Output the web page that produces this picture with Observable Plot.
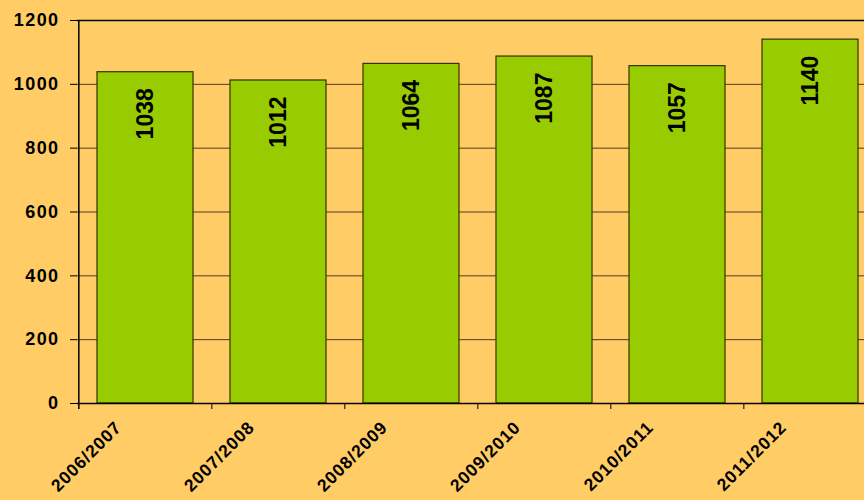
<!DOCTYPE html>
<html>
<head>
<meta charset="utf-8">
<script src="https://cdn.jsdelivr.net/npm/d3@7"></script>
<script src="https://cdn.jsdelivr.net/npm/@observablehq/plot@0.6"></script>
<style>
  html, body { margin: 0; padding: 0; background: #FFCC66; overflow: hidden; }
</style>
</head>
<body>
<div id="chart"></div>
<script>
const categories = ["2006/2007", "2007/2008", "2008/2009", "2009/2010", "2010/2011", "2011/2012"];
const values = [1038, 1012, 1064, 1087, 1057, 1140];
const yTicks = [0, 200, 400, 600, 800, 1000, 1200];

const data = categories.map((c, i) => ({season: c, value: values[i]}));

const W = 864, H = 500, mL = 77, mT = 20, mB = 97;
const xRange = [mL, 877];
const step = (xRange[1] - xRange[0]) / categories.length;
const plotH = H - mT - mB;

const chart = Plot.plot({
  width: W,
  height: H,
  marginLeft: mL,
  marginRight: 0,
  marginTop: mT,
  marginBottom: mB,
  style: {background: "#FFCC66", fontFamily: "'Liberation Sans', Arial, sans-serif", overflow: "hidden", color: "#000"},
  x: {domain: categories, range: xRange, paddingInner: 0.28, paddingOuter: 0.14, axis: null},
  y: {domain: [0, 1200], axis: null},
  marks: [
    Plot.ruleY(yTicks.slice(1, -1), {stroke: "#000", strokeOpacity: 0.7, strokeWidth: 1}),
    Plot.ruleY([1200], {stroke: "#000", strokeWidth: 1.5}),
    Plot.barY(data, {x: "season", y: "value", fill: "#99CC00", stroke: "#333300", strokeWidth: 1.2}),
    Plot.ruleY([0], {stroke: "#000", strokeWidth: 1.5}),
    Plot.ruleX(categories.slice(0, 1), {dx: -step / 2, stroke: "#000", strokeWidth: 1.5, insetBottom: -6}),
    Plot.ruleX(categories.slice(1), {dx: -step / 2, stroke: "#000", strokeWidth: 1, insetTop: plotH, insetBottom: -6}),
    Plot.axisY({ticks: yTicks, tickSize: 7, tickPadding: 11, fontSize: 18, fontWeight: "bold", label: null, tickFormat: d => String(d)}),
    Plot.text(data, {x: "season", y: "value", text: d => String(d.value), rotate: -90, textAnchor: "end", dy: 16, fontSize: 23, fontWeight: "bold", fill: "#000"}),
    Plot.text(categories, {x: d => d, frameAnchor: "bottom", text: d => d, rotate: -45, textAnchor: "end", dx: -23, dy: 25, fontSize: 17.5, fontWeight: "bold", fill: "#000"})
  ]
});
document.getElementById("chart").appendChild(chart);

// letter spacing tweaks (Excel-like wide digits)
const textGroups = chart.querySelectorAll('g[aria-label="text"]');
d3.select(textGroups[1]).selectAll("text").style("letter-spacing", "0.9px");
d3.select(chart).selectAll('g[aria-label="y-axis tick label"] text').style("letter-spacing", "1.4px");
</script>
</body>
</html>
